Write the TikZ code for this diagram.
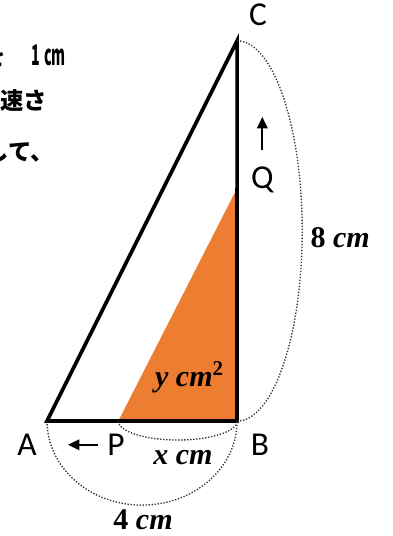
\documentclass[tikz,border=0pt]{standalone}
\usepackage{amsmath}
\usepackage{fontspec}
\newfontfamily\labelfont{Carlito}
\newfontfamily\jpfont{Noto Sans CJK JP}
\newfontfamily\lenfont{Liberation Serif}
\usetikzlibrary{arrows.meta}
\definecolor{areaorange}{HTML}{ED7D31}
\tikzset{%
  edge/.style={line width=2.2pt},
  span/.style={densely dotted, line width=0.8pt, black!80},
  vlabel/.style={font=\labelfont\fontsize{20}{22}\selectfont, inner sep=0pt},
  mlabel/.style={font=\lenfont\fontsize{18}{20}\selectfont\bfseries, inner sep=0pt},
  jptext/.style={font=\jpfont\bfseries\fontsize{14}{16}\selectfont, inner sep=0pt},
  move/.style={-{Triangle[length=2.4mm,width=2.2mm]}, line width=1.2pt}%
}

\begin{document}
\begin{tikzpicture}

\useasboundingbox (-0.99,-2.42) rectangle (7.28,8.86);
\clip (-0.99,-2.42) rectangle (7.28,8.86);

% Corners
\coordinate (A) at (0,0);
\coordinate (B) at (4,0);
\coordinate (C) at (4,8);
\coordinate (P) at (1.5,0);
\coordinate (Q) at (4,4.9);

% Shaded triangle PBQ
\fill[areaorange] (P) -- (B) -- (Q) -- cycle;

% Main triangle
\draw[edge] (A) -- (B) -- (C) -- cycle;
\draw[edge, line width=2.6pt] (P) -- (B) -- (Q);

% Dotted spans
\draw[span] (A) arc[start angle=180, end angle=360, x radius=2, y radius=1.77];
\draw[span] (P) arc[start angle=180, end angle=360, x radius=1.25, y radius=0.4];
\draw[span] (C) arc[start angle=90, end angle=-90, x radius=1.37, y radius=4];

% Point names
\node[vlabel] (labA) at (-0.42,-0.5) {A};
\node[vlabel] (labP) at (1.45,-0.5) {P};
\node[vlabel] (labB) at (4.48,-0.5) {B};
\node[vlabel] (labC) at (4.44,8.55) {C};
\node[vlabel] (labQ) at (4.53,5.07) {Q};

% Directions of motion
\coordinate (pfrom) at (1.07,-0.5);
\coordinate (pto) at (0.44,-0.5);
\coordinate (qfrom) at (4.53,5.71);
\coordinate (qto) at (4.53,6.4);
\draw[move] (pfrom) -- (pto);
\draw[move] (qfrom) -- (qto);

% Lengths and area
\node[mlabel] (len8) at (6.17,3.85) {8 \textit{cm}};
\node[mlabel] (lenx) at (2.86,-0.76) {\textit{x cm}};
\node[mlabel] (len4) at (2.02,-2.08) {4 \textit{cm}};
\node[mlabel] (area) at (3.0,0.92) {\textit{y cm}\textsuperscript{2}};

% Question text (cut at the left edge)
\node[jptext, anchor=base east] (line1a) at (-0.86,7.49) {を};
\node[jptext, anchor=base west] (line1b) at (-0.34,7.49)
  {\fontsize{17}{19}\selectfont\scalebox{0.5}[1]{1}\hspace{2.5pt}\scalebox{0.5}[1]{cm}};
\node[jptext, anchor=base west] (line2) at (-0.99,6.55) {速さ};
\node[jptext, anchor=base west] (line3) at (-1.3,5.49) {して、};

\end{tikzpicture}
\end{document}
